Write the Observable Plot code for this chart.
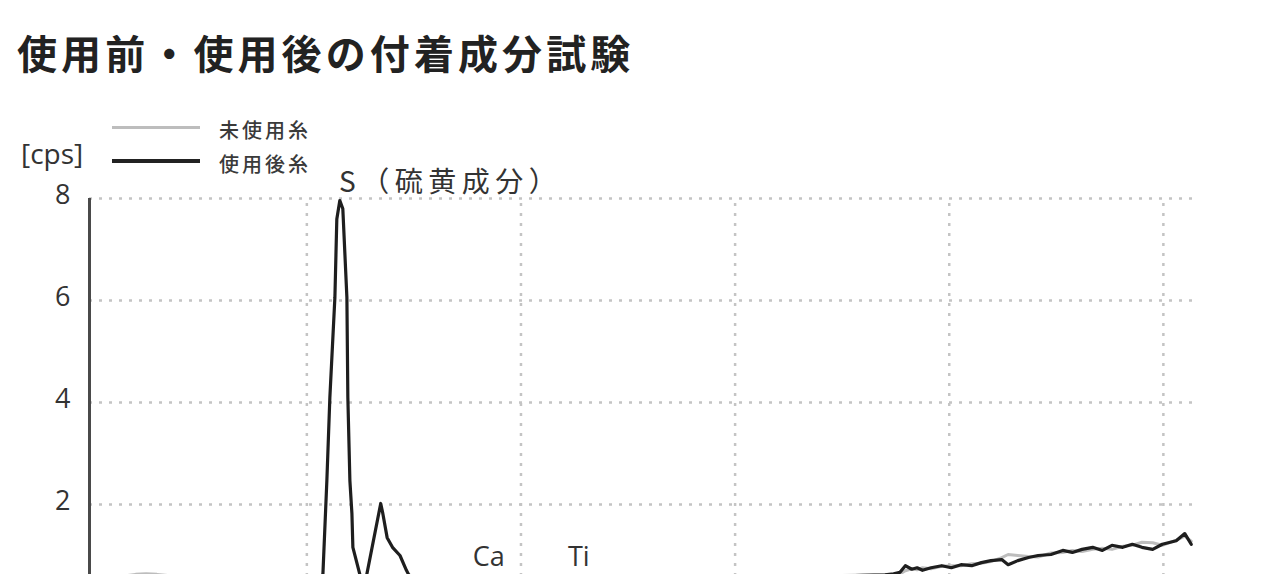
<!DOCTYPE html>
<html>
<head>
<meta charset="utf-8">
<script src="https://cdn.jsdelivr.net/npm/d3@7"></script>
<script src="https://cdn.jsdelivr.net/npm/@observablehq/plot@0.6"></script>
<style>
  html, body { margin: 0; padding: 0; background: #fff; overflow: hidden; }
  #wrap { position: relative; width: 1261px; height: 574px; overflow: hidden; }
  #title { position: absolute; left: 17px; top: 32px; font-family: "Noto Sans CJK JP", sans-serif; font-weight: 700; font-size: 40px; line-height: 40px; letter-spacing: 4.1px; color: #222; white-space: nowrap; z-index: 2; }
  #chart { position: absolute; left: 0; top: 0; }
  .leg { position: absolute; z-index: 2; font-family: "Noto Sans CJK JP", sans-serif; font-weight: 500; font-size: 20px; line-height: 20px; letter-spacing: 3px; color: #3a3a3a; white-space: nowrap; }
  .swatch { position: absolute; z-index: 2; left: 112px; width: 88px; }
  #unit { position: absolute; left: 21px; top: 137px; z-index: 2; font-family: "Open Sans", sans-serif; font-size: 28px; line-height: 32px; color: #333; }
</style>
</head>
<body>
<div id="wrap">
  <div id="title">使用前・使用後の付着成分試験</div>
  <div class="swatch" style="top:126px;height:3px;background:#bdbdbd"></div>
  <div class="swatch" style="top:159px;height:4px;background:#222"></div>
  <div class="leg" id="leg1" style="left:219px;top:120px"></div>
  <div class="leg" id="leg2" style="left:219px;top:154px"></div>
  <div id="unit"></div>
  <div id="chart"></div>
</div>
<script>
// ---- data ----
const seriesNames = ["未使用糸", "使用後糸"];
const unitLabel = "[cps]";
const gridY = [0, 2, 4, 6, 8];
const yTickLabels = [2, 4, 6, 8];
const gridX = [2, 4, 6, 8, 10];

// energy [keV]
const keV = [
  0.0, 0.1, 0.2, 0.3, 0.4, 0.5, 0.6, 0.7, 0.8, 0.9, 1.0, 1.1, 1.2, 1.3, 1.4, 1.5, 1.6, 1.7, 1.8, 1.9, 2.0,
  2.05, 2.10, 2.150, 2.187, 2.215, 2.262, 2.280, 2.308, 2.336, 2.374, 2.383, 2.402, 2.421, 2.430, 2.495, 2.54,
  2.56, 2.69, 2.71, 2.75, 2.80, 2.87, 2.93, 2.95, 3.0,
  3.1, 3.2, 3.3, 3.4, 3.5, 3.6, 3.7, 3.8, 3.9, 4.0, 4.1, 4.2, 4.3, 4.4, 4.5, 4.6, 4.7, 4.8, 4.9, 5.0,
  5.2, 5.4, 5.6, 5.8, 6.0, 6.2, 6.4, 6.6, 6.8, 7.0, 7.2, 7.4, 7.48,
  7.54, 7.59, 7.65, 7.70, 7.75, 7.83, 7.93, 8.02, 8.11, 8.21, 8.30, 8.39, 8.49, 8.55, 8.64, 8.74, 8.83,
  8.95, 9.06, 9.15, 9.24, 9.34, 9.43, 9.52, 9.62, 9.71, 9.80, 9.90, 9.99, 10.12, 10.20, 10.26
];
// 未使用糸 [cps]
const unused = [
  0.10, 0.30, 0.50, 0.60, 0.63, 0.64, 0.63, 0.61, 0.57, 0.52, 0.47, 0.44, 0.41, 0.39, 0.38, 0.37, 0.36, 0.37, 0.38, 0.40, 0.42,
  0.43, 0.45, 0.47, 0.50, 0.52, 0.54, 0.55, 0.56, 0.55, 0.54, 0.53, 0.52, 0.51, 0.50, 0.48, 0.47,
  0.47, 0.50, 0.50, 0.49, 0.48, 0.47, 0.46, 0.46, 0.45,
  0.44, 0.43, 0.42, 0.42, 0.43, 0.46, 0.50, 0.46, 0.43, 0.43, 0.44, 0.44, 0.45, 0.47, 0.52, 0.48, 0.47, 0.48, 0.49, 0.50,
  0.52, 0.53, 0.55, 0.56, 0.57, 0.58, 0.58, 0.60, 0.61, 0.61, 0.62, 0.62, 0.62,
  0.64, 0.70, 0.74, 0.72, 0.76, 0.74, 0.79, 0.80, 0.80, 0.84, 0.85, 0.88, 0.96, 1.02, 1.00, 0.98, 0.97,
  1.05, 1.06, 1.10, 1.08, 1.12, 1.14, 1.12, 1.18, 1.20, 1.26, 1.25, 1.20, 1.30, 1.38, 1.28
];
// 使用後糸 [cps]
const used = [
  0.10, 0.25, 0.42, 0.52, 0.55, 0.57, 0.55, 0.52, 0.48, 0.45, 0.42, 0.40, 0.38, 0.37, 0.36, 0.35, 0.35, 0.36, 0.38, 0.40, 0.45,
  0.48, 0.55, 0.63, 2.47, 4.10, 6.06, 7.60, 7.96, 7.80, 6.06, 4.10, 2.47, 1.82, 1.16, 0.63, 0.45,
  0.63, 2.02, 1.82, 1.35, 1.16, 1.00, 0.71, 0.63, 0.52,
  0.48, 0.45, 0.44, 0.44, 0.46, 0.52, 0.58, 0.50, 0.45, 0.44, 0.46, 0.45, 0.47, 0.50, 0.56, 0.50, 0.48, 0.48, 0.49, 0.50,
  0.51, 0.53, 0.54, 0.55, 0.56, 0.57, 0.58, 0.59, 0.60, 0.60, 0.61, 0.62, 0.64,
  0.67, 0.80, 0.73, 0.76, 0.71, 0.76, 0.80, 0.76, 0.82, 0.80, 0.86, 0.90, 0.92, 0.82, 0.90, 0.96, 1.00,
  1.02, 1.10, 1.06, 1.12, 1.16, 1.10, 1.20, 1.16, 1.22, 1.16, 1.12, 1.22, 1.29, 1.43, 1.22
];
// peak annotations
const peakLabels = ["S（硫黄成分）", "Ca", "Ti"];
const peakKeV = [2.30, 3.70, 4.54];
const peakCps = [8.12, 0.79, 0.79];

// ---- chart ----
document.getElementById("leg1").textContent = seriesNames[0];
document.getElementById("leg2").textContent = seriesNames[1];
document.getElementById("unit").textContent = unitLabel;

const unusedPts = keV.map((k, i) => ({keV: k, cps: unused[i]}));
const usedPts = keV.map((k, i) => ({keV: k, cps: used[i]}));
const ann = peakLabels.map((t, i) => ({t, keV: peakKeV[i], cps: peakCps[i]}));

const grid = {stroke: "#c4c4c4", strokeWidth: 2.5, strokeDasharray: "3,7"};
const xMin = -0.03, xMax = 10.3;

const chart = Plot.plot({
  width: 1261,
  height: 646,
  marginTop: 198,
  marginBottom: 40,
  marginLeft: 89,
  marginRight: 66,
  x: {domain: [xMin, xMax], axis: null},
  y: {domain: [0, 8]},
  style: {fontFamily: "Open Sans, sans-serif", color: "#333", background: "transparent", overflow: "visible"},
  marks: [
    Plot.ruleY(gridY, grid),
    Plot.ruleX(gridX, {...grid, y1: 0, y2: 8}),
    Plot.ruleX([xMin], {y1: 0, y2: 8, stroke: "#4a4a4a", strokeWidth: 3}),
    Plot.axisY({ticks: yTickLabels, tickSize: 0, tickPadding: 19, fontSize: 27, label: null, dy: -3}),
    Plot.line(unusedPts, {x: "keV", y: "cps", stroke: "#bdbdbd", strokeWidth: 3, strokeLinejoin: "round"}),
    Plot.line(usedPts, {x: "keV", y: "cps", stroke: "#1e1e1e", strokeWidth: 3.2, strokeLinejoin: "round"}),
    Plot.text(ann.slice(0, 1), {x: "keV", y: "cps", text: "t", textAnchor: "start", lineAnchor: "bottom",
      fontSize: 28, fontFamily: "Noto Sans CJK JP, sans-serif", fill: "#333"}),
    Plot.text(ann.slice(1), {x: "keV", y: "cps", text: "t", textAnchor: "middle", lineAnchor: "bottom",
      fontSize: 27, fill: "#333"})
  ]
});
chart.querySelectorAll("text").forEach(t => {
  if (t.textContent.includes("硫")) t.setAttribute("letter-spacing", "5.5px");
});
document.getElementById("chart").appendChild(chart);
</script>
</body>
</html>
